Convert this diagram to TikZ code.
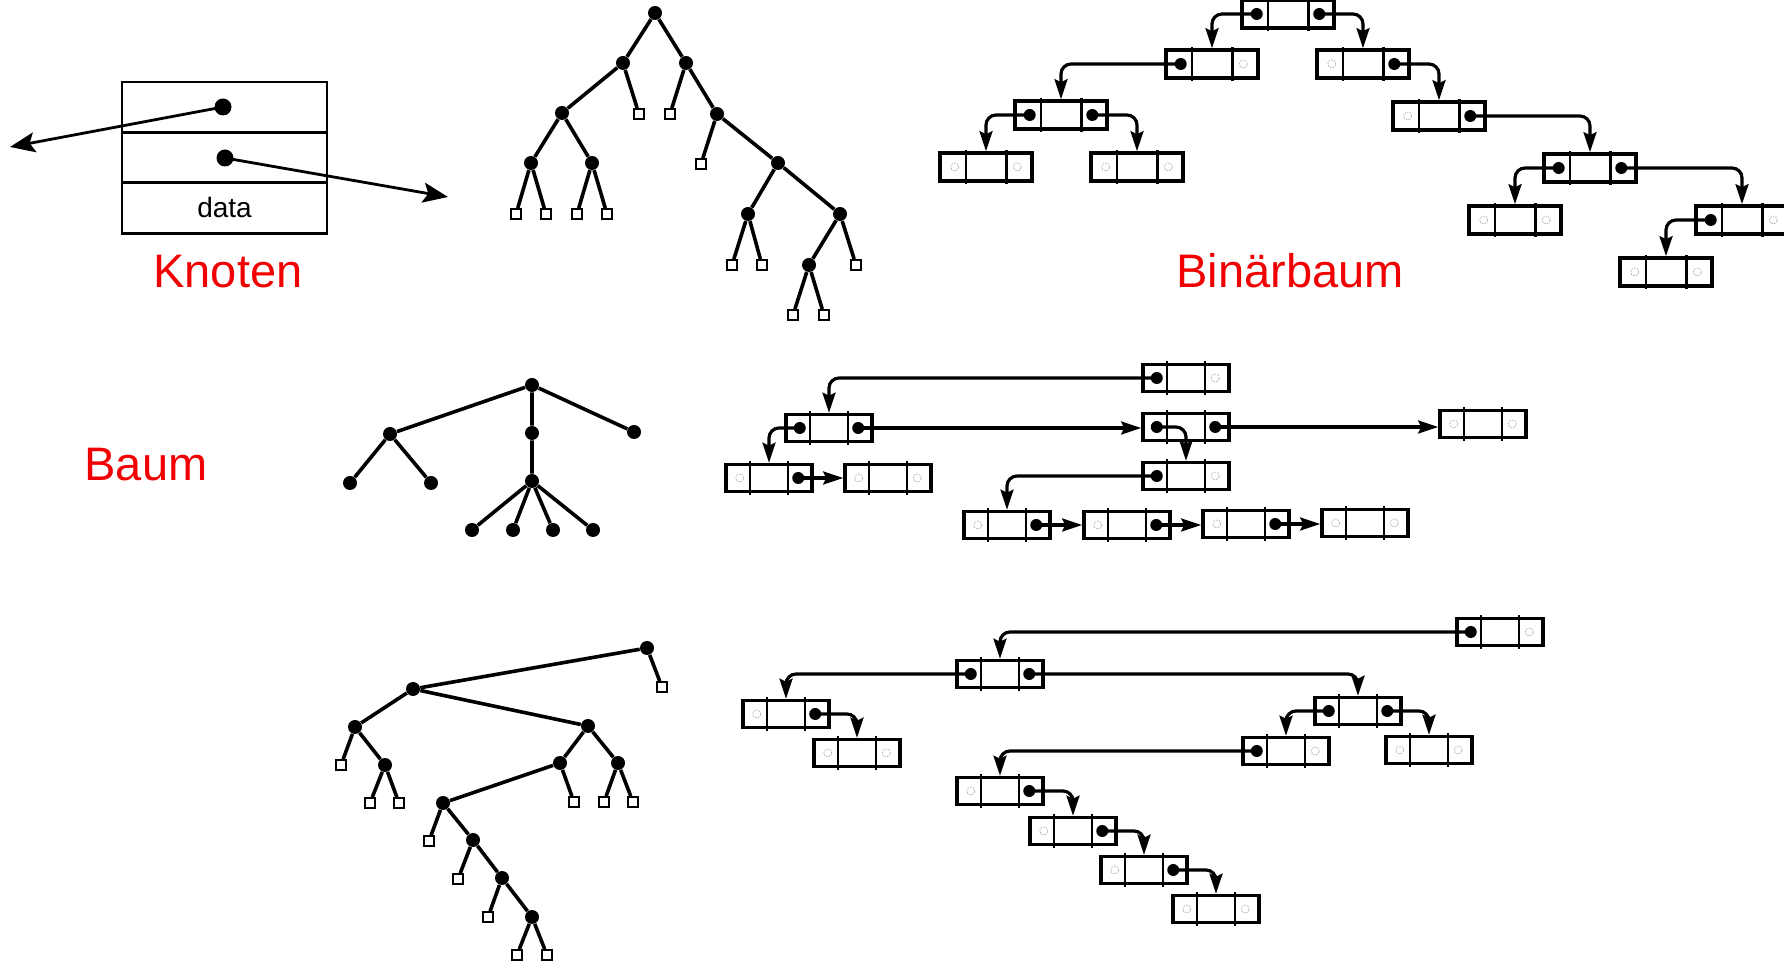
\documentclass[tikz,border=0pt]{standalone}
\usepackage{fontspec}
\setmainfont{Liberation Sans}
\usetikzlibrary{arrows.meta}

\begin{document}
\begin{tikzpicture}[x=0.5pt,y=-0.5pt,line cap=rect,
	tdot/.style={circle,fill,inner sep=0,minimum size=7pt},
	tleaf/.style={rectangle,draw,line width=0.9pt,fill=white,inner sep=0,minimum size=5pt},
	tedge/.style={line width=1.8pt,line cap=butt},
	lbox/.style={rectangle,draw,line width=1.8pt,inner sep=0,minimum width={0.5pt*\lboxw},minimum height={0.5pt*\lboxh}},
	cellsep/.style={line width=1.3pt},
	ptrdot/.style={circle,fill,inner sep=0,minimum size=6pt},
	nilmark/.style={circle,draw=black!30,densely dotted,line width=0.4pt,inner sep=0,minimum size=4pt},
	ptr/.style={line width=1.6pt,line cap=butt,rounded corners=5pt,-{Stealth[length=10pt,width=6.5pt,inset=1.5pt]}},
	kbox/.style={rectangle,draw,line width=1.3pt,inner sep=0,minimum width=102.5pt,minimum height=25.5pt},
	karrow/.style={line width=1.4pt,line cap=butt,-{Stealth[length=12.5pt,width=10pt,inset=2.5pt]}},
	title/.style={custcol_red,font=\fontsize{23.5pt}{26pt}\selectfont,anchor=base,inner sep=0}]
	\definecolor{custcol_red}{RGB}{240, 0, 0}
	\def\lnode#1#2#3#4{% name, centre, left cell, right cell
		\node[lbox] (#1) at (#2) {};
		\draw[cellsep] ([xshift=0.15pt*\lboxw]#1.north west) -- ([xshift=0.15pt*\lboxw]#1.south west);
		\draw[cellsep] ([xshift=-0.15pt*\lboxw]#1.north east) -- ([xshift=-0.15pt*\lboxw]#1.south east);
		\node[#3] (#1l) at ([xshift=-0.17pt*\lboxw]#1.center) {};
		\node[#4] (#1r) at ([xshift=0.17pt*\lboxw]#1.center) {};}
	\useasboundingbox (0,0) rectangle (1784,961);

	% Knoten
	\node[kbox] (kn1) at (224.5,107.5) {};
	\node[kbox] (kn2) at (224.5,157.5) {};
	\node[kbox,font=\fontsize{14pt}{16pt}\selectfont] (kn3) at (224.5,208) {data};
	\node[circle,fill,inner sep=0,minimum size=8.5pt] (kd1) at (223,107) {};
	\node[circle,fill,inner sep=0,minimum size=8.5pt] (kd2) at (225,158) {};
	\coordinate (ka1) at (10,147);
	\coordinate (ka2) at (448,197);
	\draw[karrow] (kd1.center) -- (ka1);
	\draw[karrow] (kd2.center) -- (ka2);
	\node[title] (knoten) at (228,288) {Knoten};

	% binary tree, drawn
	\node[tdot] (a0) at (655,13) {};
	\node[tdot] (a1) at (623,63) {};
	\node[tdot] (a2) at (686,63) {};
	\node[tdot] (a3) at (562,113) {};
	\node[tdot] (a4) at (717,114) {};
	\node[tdot] (a5) at (531,163) {};
	\node[tdot] (a6) at (592,163) {};
	\node[tdot] (a7) at (778,163) {};
	\node[tdot] (a8) at (748,214) {};
	\node[tdot] (a9) at (840,214) {};
	\node[tdot] (a10) at (809,265) {};
	\node[tleaf] (al1) at (639,114) {};
	\node[tleaf] (al2) at (670,114) {};
	\node[tleaf] (al3) at (701,164) {};
	\node[tleaf] (al4) at (516,214) {};
	\node[tleaf] (al5) at (546,214) {};
	\node[tleaf] (al6) at (577,214) {};
	\node[tleaf] (al7) at (607,214) {};
	\node[tleaf] (al8) at (732,265) {};
	\node[tleaf] (al9) at (762,265) {};
	\node[tleaf] (al10) at (856,265) {};
	\node[tleaf] (al11) at (793,315) {};
	\node[tleaf] (al12) at (824,315) {};
	\draw[tedge] (a0) -- (a1) (a0) -- (a2) (a1) -- (a3) (a1) -- (al1) (a2) -- (al2) (a2) -- (a4)
		(a3) -- (a5) (a3) -- (a6) (a4) -- (al3) (a4) -- (a7) (a5) -- (al4) (a5) -- (al5)
		(a6) -- (al6) (a6) -- (al7) (a7) -- (a8) (a7) -- (a9) (a8) -- (al8) (a8) -- (al9)
		(a9) -- (a10) (a9) -- (al10) (a10) -- (al11) (a10) -- (al12);

	% binary tree, as linked nodes
	\def\lboxw{92}\def\lboxh{28}
	\lnode{B0}{1288,14}{ptrdot}{ptrdot}
	\lnode{B1}{1212,64}{ptrdot}{nilmark}
	\lnode{B2}{1363,64}{nilmark}{ptrdot}
	\lnode{B3}{1061,115}{ptrdot}{ptrdot}
	\lnode{B4}{1439,116}{nilmark}{ptrdot}
	\lnode{B5}{986,167}{nilmark}{nilmark}
	\lnode{B6}{1137,167}{nilmark}{nilmark}
	\lnode{B7}{1590,168}{ptrdot}{ptrdot}
	\lnode{B8}{1515,220}{nilmark}{nilmark}
	\lnode{B9}{1742,220}{ptrdot}{nilmark}
	\lnode{B10}{1666,272}{nilmark}{nilmark}
	\draw[ptr] (B0l.center) -| (B1.north);
	\draw[ptr] (B0r.center) -| (B2.north);
	\draw[ptr] (B1l.center) -| (B3.north);
	\draw[ptr] (B2r.center) -| (B4.north);
	\draw[ptr] (B3l.center) -| (B5.north);
	\draw[ptr] (B3r.center) -| (B6.north);
	\draw[ptr] (B4r.center) -| (B7.north);
	\draw[ptr] (B7l.center) -| (B8.north);
	\draw[ptr] (B7r.center) -| (B9.north);
	\draw[ptr] (B9l.center) -| (B10.north);
	\node[title] (binaerbaum) at (1290,288) {Binärbaum};

	% general tree
	\node[title] (baum) at (146,481) {Baum};
	\node[tdot] (b0) at (532,385) {};
	\node[tdot] (b1) at (390,434) {};
	\node[tdot] (b2) at (532,433) {};
	\node[tdot] (b3) at (634,432) {};
	\node[tdot] (b4) at (350,483) {};
	\node[tdot] (b5) at (431,483) {};
	\node[tdot] (b6) at (532,481) {};
	\node[tdot] (b7) at (472,530) {};
	\node[tdot] (b8) at (513,530) {};
	\node[tdot] (b9) at (553,530) {};
	\node[tdot] (b10) at (593,530) {};
	\draw[tedge] (b0) -- (b1) (b0) -- (b2) (b0) -- (b3) (b1) -- (b4) (b1) -- (b5) (b2) -- (b6)
		(b6) -- (b7) (b6) -- (b8) (b6) -- (b9) (b6) -- (b10);

	\def\lboxw{86}\def\lboxh{27}
	\lnode{P0}{1186,378}{ptrdot}{nilmark}
	\lnode{P1}{829,428}{ptrdot}{ptrdot}
	\lnode{P2}{1186,427}{ptrdot}{ptrdot}
	\lnode{P3}{1483,424}{nilmark}{nilmark}
	\lnode{P4}{769,478}{nilmark}{ptrdot}
	\lnode{P5}{888,478}{nilmark}{nilmark}
	\lnode{P6}{1186,476}{ptrdot}{nilmark}
	\lnode{P7}{1007,525}{nilmark}{ptrdot}
	\lnode{P8}{1127,525}{nilmark}{ptrdot}
	\lnode{P9}{1246,524}{nilmark}{ptrdot}
	\lnode{P10}{1365,523}{nilmark}{nilmark}
	\draw[ptr] (P0l.center) -| (P1.north);
	\draw[ptr] (P1l.center) -| (P4.north);
	\draw[ptr] (P1r.center) -- (P1r.center -| P2.west);
	\draw[ptr] (P2l.center) -| (P6.north);
	\draw[ptr] (P2r.center) -- (P2r.center -| P3.west);
	\draw[ptr] (P4r.center) -- (P4r.center -| P5.west);
	\draw[ptr] (P6l.center) -| (P7.north);
	\draw[ptr] (P7r.center) -- (P7r.center -| P8.west);
	\draw[ptr] (P8r.center) -- (P8r.center -| P9.west);
	\draw[ptr] (P9r.center) -- (P9r.center -| P10.west);

	% binary tree of the general tree
	\node[tdot] (c0) at (647,648) {};
	\node[tdot] (c1) at (413,689) {};
	\node[tdot] (c2) at (355,727) {};
	\node[tdot] (c3) at (588,726) {};
	\node[tdot] (c4) at (385,765) {};
	\node[tdot] (c5) at (560,763) {};
	\node[tdot] (c6) at (618,763) {};
	\node[tdot] (c7) at (443,803) {};
	\node[tdot] (c8) at (473,840) {};
	\node[tdot] (c9) at (502,878) {};
	\node[tdot] (c10) at (532,917) {};
	\node[tleaf] (cl1) at (662,687) {};
	\node[tleaf] (cl2) at (341,765) {};
	\node[tleaf] (cl3) at (370,803) {};
	\node[tleaf] (cl4) at (399,803) {};
	\node[tleaf] (cl5) at (574,802) {};
	\node[tleaf] (cl6) at (604,802) {};
	\node[tleaf] (cl7) at (633,802) {};
	\node[tleaf] (cl8) at (429,841) {};
	\node[tleaf] (cl9) at (458,879) {};
	\node[tleaf] (cl10) at (488,917) {};
	\node[tleaf] (cl11) at (517,955) {};
	\node[tleaf] (cl12) at (547,955) {};
	\draw[tedge] (c0) -- (c1) (c0) -- (cl1) (c1) -- (c2) (c1) -- (c3) (c2) -- (cl2) (c2) -- (c4)
		(c4) -- (cl3) (c4) -- (cl4) (c3) -- (c5) (c3) -- (c6) (c5) -- (c7) (c5) -- (cl5)
		(c6) -- (cl6) (c6) -- (cl7) (c7) -- (cl8) (c7) -- (c8) (c8) -- (cl9) (c8) -- (c9)
		(c9) -- (cl10) (c9) -- (c10) (c10) -- (cl11) (c10) -- (cl12);

	\lnode{Q0}{1500,632}{ptrdot}{nilmark}
	\lnode{Q1}{1000,674}{ptrdot}{ptrdot}
	\lnode{Q2}{786,714}{nilmark}{ptrdot}
	\lnode{Q3}{857,753}{nilmark}{nilmark}
	\lnode{Q4}{1358,711}{ptrdot}{ptrdot}
	\lnode{Q5}{1286,751}{ptrdot}{nilmark}
	\lnode{Q6}{1429,750}{nilmark}{nilmark}
	\lnode{Q7}{1000,791}{nilmark}{ptrdot}
	\lnode{Q8}{1073,831}{nilmark}{ptrdot}
	\lnode{Q9}{1144,870}{nilmark}{ptrdot}
	\lnode{Q10}{1216,909}{nilmark}{nilmark}
	\draw[ptr] (Q0l.center) -| (Q1.north);
	\draw[ptr] (Q1l.center) -| (Q2.north);
	\draw[ptr] (Q1r.center) -| (Q4.north);
	\draw[ptr] (Q2r.center) -| (Q3.north);
	\draw[ptr] (Q4l.center) -| (Q5.north);
	\draw[ptr] (Q4r.center) -| (Q6.north);
	\draw[ptr] (Q5l.center) -| (Q7.north);
	\draw[ptr] (Q7r.center) -| (Q8.north);
	\draw[ptr] (Q8r.center) -| (Q9.north);
	\draw[ptr] (Q9r.center) -| (Q10.north);
\end{tikzpicture}
\end{document}
